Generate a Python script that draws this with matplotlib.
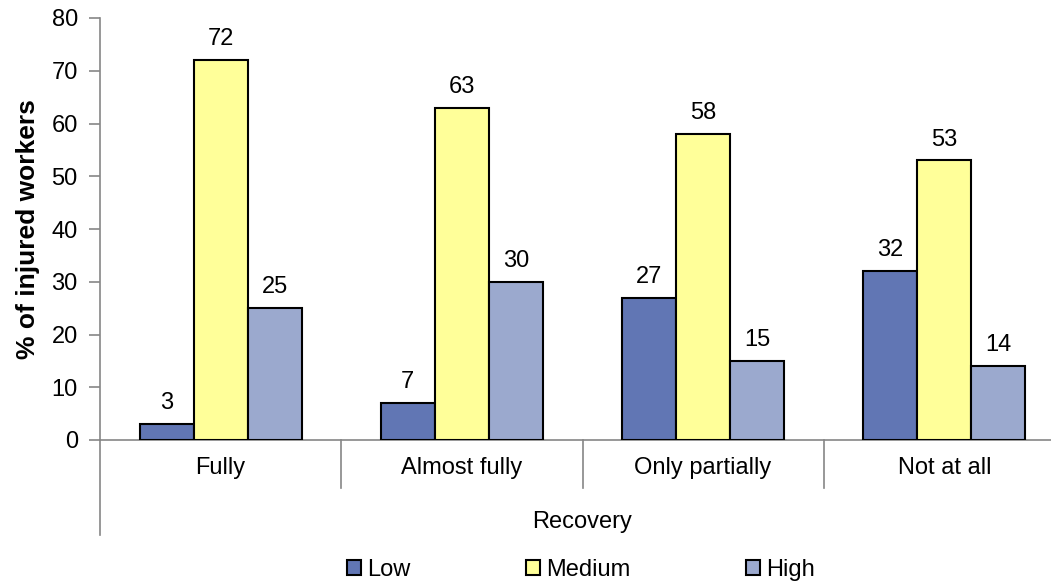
import matplotlib.pyplot as plt
import numpy as np
from matplotlib.lines import Line2D

plt.rcParams['font.family'] = ['Liberation Sans', 'DejaVu Sans']

categories = ['Fully', 'Almost fully', 'Only partially', 'Not at all']
series = ['Low', 'Medium', 'High']
low = [3, 7, 27, 32]
medium = [72, 63, 58, 53]
high = [25, 30, 15, 14]
colors = ['#6176B4', '#FFFF99', '#9BA9CE']

fig = plt.figure(figsize=(10.51, 5.82), dpi=100)
ax = fig.add_axes([100/1051, 142/582, 965/1051, 422/582])

x = np.arange(len(categories))
w = 0.224
for i, (vals, name) in enumerate(zip([low, medium, high], series)):
    bars = ax.bar(x + (i - 1) * w, vals, w, color=colors[i], edgecolor='black',
                  linewidth=1.5, label=name, zorder=3)
    for b, v in zip(bars, vals):
        ax.annotate(str(v), (b.get_x() + b.get_width() / 2, v), xytext=(0, 7),
                    textcoords='offset points', ha='center', va='bottom', fontsize=17)

ax.set_xlim(-0.5, len(categories) - 0.5)
ax.set_ylim(0, 80)
ax.set_yticks(range(0, 81, 10))
ax.tick_params(axis='y', labelsize=17, length=8, color='#868686', width=1.2, pad=8)
ax.tick_params(axis='x', length=0, labelsize=17, pad=12)
ax.set_xticks(x)
ax.set_xticklabels(categories)
ax.set_ylabel('% of injured workers', fontsize=19, fontweight='bold', labelpad=8)
ax.set_xlabel('Recovery', fontsize=17, labelpad=23)

for s in ['top', 'right']:
    ax.spines[s].set_visible(False)
for s in ['left', 'bottom']:
    ax.spines[s].set_color('#868686')
    ax.spines[s].set_linewidth(1.2)

# extended left axis and category separators
ax.add_line(Line2D([0, 0], [0, -0.225], transform=ax.transAxes, color='#868686',
                   lw=1.2, clip_on=False))
for k in range(1, len(categories)):
    xf = k / len(categories)
    ax.add_line(Line2D([xf, xf], [0, -0.114], transform=ax.transAxes, color='#868686',
                       lw=1.2, clip_on=False))

fig.legend(loc='lower center', bbox_to_anchor=(0.553, -0.034), ncol=3, frameon=False,
           fontsize=17, handlelength=0.6, handleheight=0.6, handletextpad=0.25,
           columnspacing=4.9)

fig.savefig('out.png', dpi=100)
